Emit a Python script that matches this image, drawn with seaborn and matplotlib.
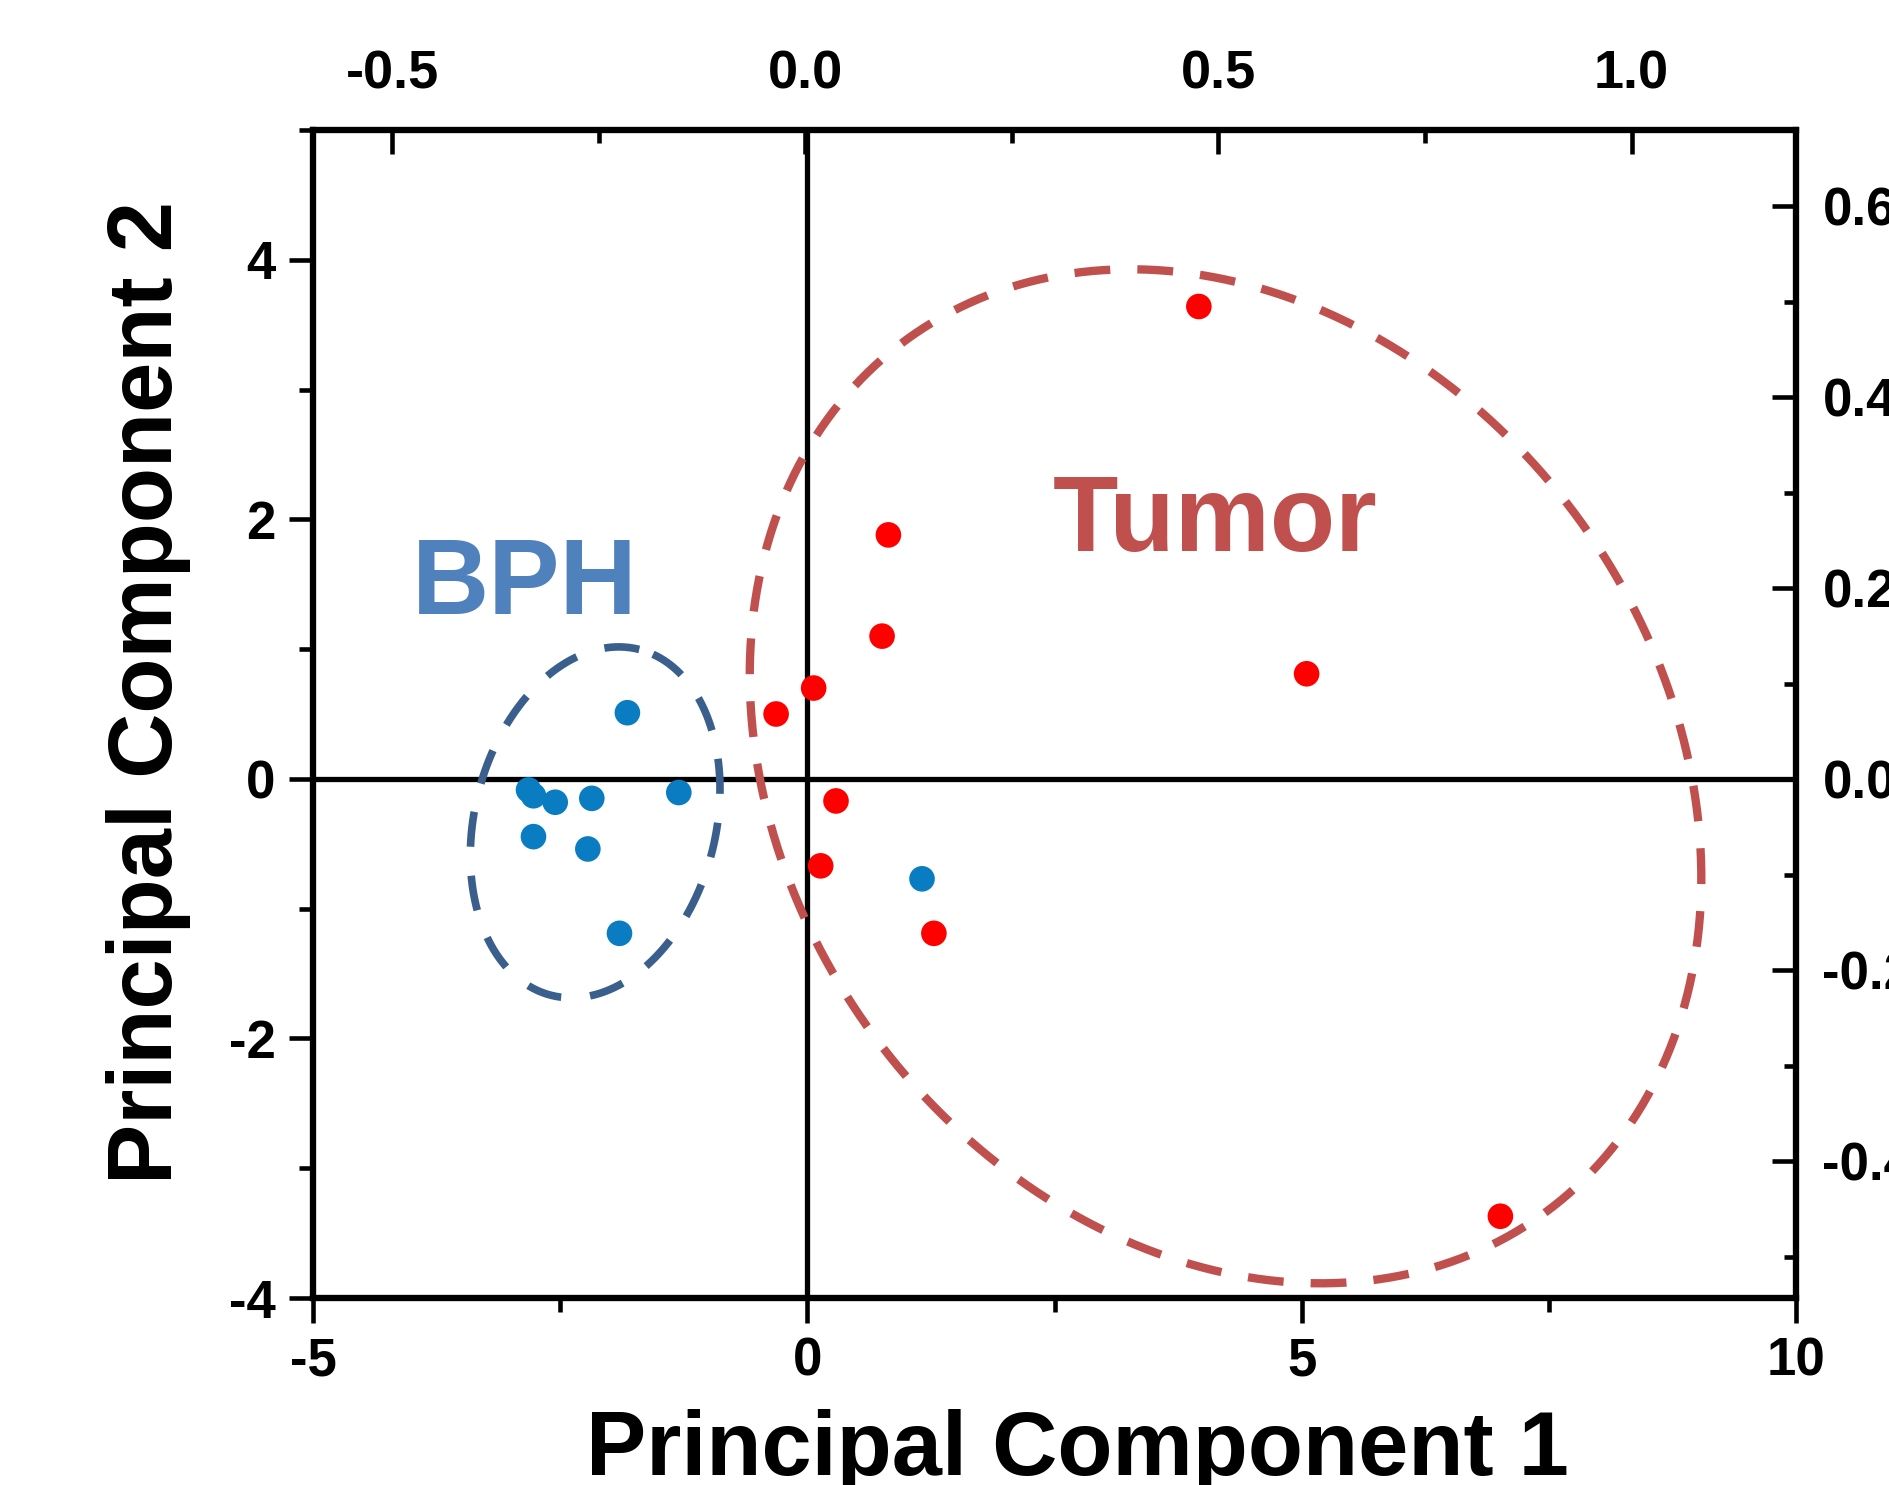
import numpy as np
import pandas as pd
import matplotlib
matplotlib.use("Agg")
import matplotlib.pyplot as plt
import seaborn as sns
from matplotlib.ticker import MultipleLocator, FuncFormatter

# ---------------- data ----------------
bph_pc1 = [-1.82, -2.82, -2.77, -2.55, -2.18, -1.30, -2.77, -2.22, -1.90, 1.16]
bph_pc2 = [0.51, -0.085, -0.13, -0.18, -0.15, -0.105, -0.445, -0.54, -1.19, -0.77]
tumor_pc1 = [0.756, 0.064, -0.316, 0.29, 0.135, 1.28, 0.82, 3.96, 5.05, 7.01]
tumor_pc2 = [1.10, 0.70, 0.50, -0.17, -0.67, -1.19, 1.88, 3.64, 0.81, -3.37]
groups = ["BPH", "Tumor"]

# axis ranges / ticks
score_xlim = (-5, 10)
score_ylim = (-4, 5)
score_xticks = [-5, 0, 5, 10]
score_yticks = [-4, -2, 0, 2, 4]
loading_xlim = (-0.596, 1.199)
loading_ylim = (-0.543, 0.68)

# confidence ellipses: centre (data), semi-axes (in x-data units), angle (deg, screen)
ellipse_bph = dict(cx=-2.146, cy=-0.335, a=1.805, b=1.219, angle=75.7)
ellipse_tumor = dict(cx=4.23, cy=0.02, a=5.47, b=4.42, angle=-53.8)

df = pd.DataFrame({
    "PC1": bph_pc1 + tumor_pc1,
    "PC2": bph_pc2 + tumor_pc2,
    "group": [groups[0]] * len(bph_pc1) + [groups[1]] * len(tumor_pc1),
})

# ---------------- style ----------------
sns.set_style("white")
plt.rcParams["font.family"] = ["Liberation Sans", "DejaVu Sans"]
plt.rcParams["font.weight"] = "bold"
plt.rcParams["text.color"] = "black"
plt.rcParams["xtick.color"] = "black"
plt.rcParams["ytick.color"] = "black"
plt.rcParams["axes.labelcolor"] = "black"

W, H = 1890, 1485
fig = plt.figure(figsize=(W / 100, H / 100), dpi=100)
ax = fig.add_axes([313 / W, 1 - 1298 / H, 1483 / W, 1168 / H])

palette = {"BPH": "#0A7DC2", "Tumor": "#FF0000"}
ax.axhline(0, color="black", lw=3.8, zorder=2)
ax.axvline(0, color="black", lw=3.8, zorder=2)
sns.scatterplot(data=df, x="PC1", y="PC2", hue="group", palette=palette,
                s=340, edgecolor="none", linewidth=0, legend=False, ax=ax, zorder=5)

ax.set_xlim(*score_xlim)
ax.set_ylim(*score_ylim)
ax.set_xticks(score_xticks)
ax.set_yticks(score_yticks)
ax.xaxis.set_minor_locator(MultipleLocator(2.5))
ax.yaxis.set_minor_locator(MultipleLocator(1))
ax.xaxis.set_major_formatter(FuncFormatter(lambda v, p: f"{int(round(v))}"))
ax.yaxis.set_major_formatter(FuncFormatter(lambda v, p: f"{int(round(v))}"))
ax.set_xlabel("")
ax.set_ylabel("")

# ratio of pixel scales to draw ellipses
bb = ax.get_position()
px_x = bb.width * W / (score_xlim[1] - score_xlim[0])
px_y = bb.height * H / (score_ylim[1] - score_ylim[0])
k = px_y / px_x


def draw_ellipse(p, color, lw, dashes):
    t = np.linspace(0, 2 * np.pi, 800)
    th = np.deg2rad(p["angle"])
    u = p["a"] * np.cos(t)
    v = p["b"] * np.sin(t)
    X = u * np.cos(th) - v * np.sin(th)
    Y = u * np.sin(th) + v * np.cos(th)
    line, = ax.plot(p["cx"] + X, p["cy"] + Y / k, color=color, lw=lw, zorder=3,
                    dash_capstyle="butt")
    line.set_dashes(dashes)


draw_ellipse(ellipse_bph, "#3B5F8C", 5.5, (4.6, 3.8))
draw_ellipse(ellipse_tumor, "#C0504D", 6.0, (4.3, 3.25))

ax.text(-2.86, 1.273, "BPH", color="#4F81BD", fontsize=77, fontweight="bold",
        ha="center", va="baseline", zorder=6)
ax.text(4.12, 1.756, "Tumor", color="#C0504D", fontsize=77, fontweight="bold",
        ha="center", va="baseline", zorder=6)

tick_fs = 38
ax.tick_params(axis="x", which="major", direction="out", length=18, width=3.3,
               pad=10, labelsize=tick_fs, bottom=True, top=False, colors="black")
ax.tick_params(axis="x", which="minor", direction="out", length=10, width=3.3,
               bottom=True, top=False, colors="black")
ax.tick_params(axis="y", which="major", direction="out", length=17, width=3.3,
               pad=10, labelsize=tick_fs, left=True, right=False, colors="black")
ax.tick_params(axis="y", which="minor", direction="out", length=10, width=3.3,
               left=True, right=False, colors="black")

# loading axes (top / right)
ax_top = ax.twiny()
ax_top.set_xlim(*loading_xlim)
ax_top.xaxis.set_major_locator(MultipleLocator(0.5))
ax_top.xaxis.set_minor_locator(MultipleLocator(0.25))
ax_top.xaxis.set_major_formatter(FuncFormatter(lambda v, p: f"{0.0 if abs(v) < 1e-9 else v:.1f}"))
ax_top.tick_params(axis="x", which="major", direction="in", length=17, width=3.3,
                   pad=22, labelsize=39, top=True, bottom=False, colors="black")
ax_top.tick_params(axis="x", which="minor", direction="in", length=9, width=3.3,
                   top=True, bottom=False, colors="black")

ax_right = ax.twinx()
ax_right.set_ylim(*loading_ylim)
ax_right.yaxis.set_major_locator(MultipleLocator(0.2))
ax_right.yaxis.set_minor_locator(MultipleLocator(0.1))
ax_right.yaxis.set_major_formatter(FuncFormatter(lambda v, p: f"{0.0 if abs(v) < 1e-9 else v:.1f}"))
ax_right.tick_params(axis="y", which="major", direction="in", length=17, width=3.3,
                     pad=19, labelsize=tick_fs, right=True, left=False, colors="black")
ax_right.tick_params(axis="y", which="minor", direction="in", length=9, width=3.3,
                     right=True, left=False, colors="black")

for a in (ax, ax_top, ax_right):
    for s in a.spines.values():
        s.set_linewidth(4.4)
        s.set_color("black")
    for lab in a.get_xticklabels() + a.get_yticklabels():
        lab.set_fontweight("bold")
        lab.set_color("black")

fig.text(1077.5 / W, 10 / H, "Principal Component 1", fontsize=65, fontweight="bold",
         color="black", ha="center", va="baseline")
fig.text(172 / W, 1 - 692 / H, "Principal Component 2", fontsize=65, fontweight="bold",
         color="black", ha="center", va="baseline", rotation=90, rotation_mode="anchor")

fig.savefig("out.png", dpi=100)
